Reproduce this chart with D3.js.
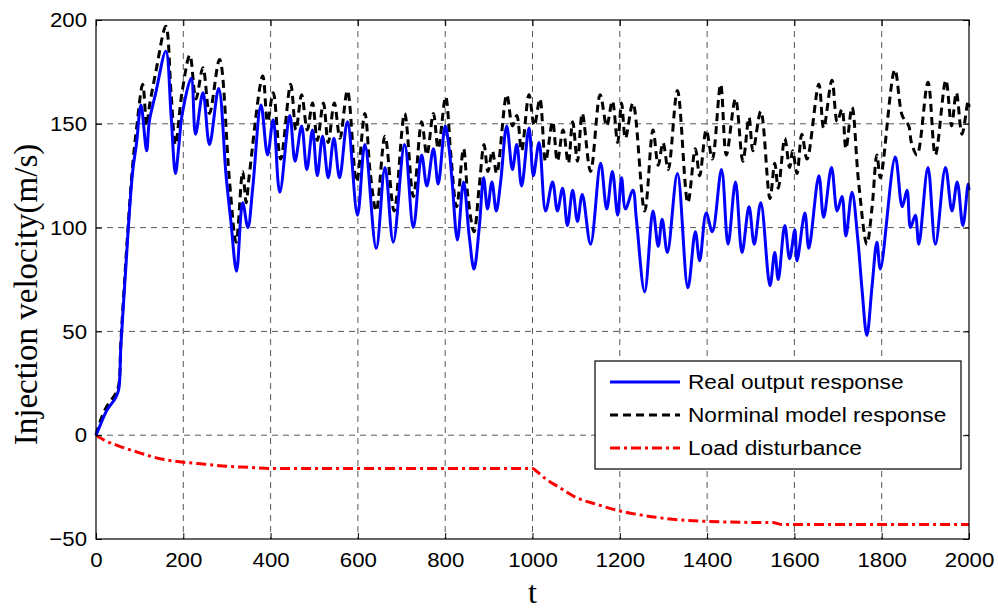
<!DOCTYPE html>
<html>
<head>
<meta charset="utf-8">
<script src="https://cdn.jsdelivr.net/npm/d3@7"></script>
<style>
  body { margin: 0; background: #fff; }
  .tick text { font-family: "Liberation Sans", Arial, sans-serif; font-size: 21px; fill: #000; }
  .axis path, .axis line { stroke: #000; }
  .grid line { stroke: #444; stroke-width: 0.9; stroke-dasharray: 6,5; }
</style>
</head>
<body>
<div id="chart"></div>
<script>
// values, [t, value]
const realOutput = [
  [0,0],[10,5],[25,12],[45,18],[52,22],[57,43],[69,83],[76,106],[84,127],[93,141],[103,159],[116,137],[122,151],
  [137,165],[160,185],[172,154],[182,126],[190,140],[197,154],[218,172],[228,145],[245,165],[260,140],[281,167],
  [298,125],[309,103],[322,79],[336,112],[348,100],[359,119],[378,159],[393,135],[406,152],[421,117],[444,154],
  [456,132],[471,149],[483,128],[496,147],[507,125],[519,144],[532,124],[545,143],[558,124],[576,151],[599,106],
  [616,140],[642,90],[662,129],[681,93],[707,140],[727,100],[746,135],[758,120],[773,138],[784,121],[800,149],
  [809,138],[816,122],[828,94],[842,122],[855,96],[866,80],[878,100],[888,124],[897,109],[907,122],[917,108],
  [927,122],[941,149],[954,128],[964,140],[975,120],[992,148],[1002,125],[1015,141],[1030,108],[1046,122],
  [1057,108],[1069,119],[1080,101],[1092,118],[1103,103],[1114,116],[1133,92],[1156,131],[1170,109],[1183,127],
  [1195,106],[1204,124],[1213,109],[1230,118],[1238,104],[1257,69],[1276,108],[1288,91],[1297,104],[1309,88],
  [1332,126],[1356,71],[1373,98],[1383,84],[1398,107],[1412,98],[1433,128],[1448,92],[1465,122],[1480,88],
  [1496,110],[1508,92],[1523,112],[1544,72],[1555,88],[1563,75],[1578,101],[1589,85],[1601,99],[1606,84],
  [1624,107],[1633,90],[1656,125],[1667,105],[1685,129],[1698,108],[1709,115],[1718,96],[1732,117],[1745,95],
  [1755,70],[1766,48],[1778,72],[1789,93],[1797,80],[1831,134],[1847,110],[1858,118],[1866,100],[1877,106],
  [1885,92],[1906,129],[1923,92],[1946,129],[1961,108],[1973,122],[1986,101],[1998,121],[2000,118]
];

const nominalModel = [
  [0,0],[10,7],[25,14],[45,20],[52,24],[57,45],[69,86],[76,108],[84,130],[93,148],[107,169],[116,149],[122,158],
  [137,175],[160,197],[172,165],[182,140],[197,165],[215,183],[229,162],[245,177],[260,155],[283,181],[306,122],
  [321,93],[336,127],[344,112],[351,125],[382,173],[393,151],[406,165],[423,133],[446,169],[458,147],[471,164],
  [484,147],[496,160],[507,142],[521,160],[532,141],[546,160],[559,143],[576,166],[597,122],[616,155],[628,127],
  [642,108],[662,144],[683,108],[707,155],[727,115],[746,151],[758,135],[773,155],[784,138],[801,163],[813,135],
  [826,110],[842,138],[852,115],[866,98],[878,120],[889,140],[898,127],[908,137],[918,126],[941,164],[954,149],
  [964,154],[975,137],[992,164],[1004,149],[1017,162],[1030,132],[1046,151],[1057,132],[1070,147],[1082,131],
  [1092,151],[1103,132],[1114,155],[1133,127],[1155,164],[1170,149],[1183,161],[1195,141],[1204,160],[1213,143],
  [1230,160],[1257,108],[1276,147],[1288,130],[1299,141],[1311,128],[1332,166],[1356,112],[1373,138],[1383,125],
  [1398,147],[1412,133],[1431,169],[1444,135],[1465,162],[1482,132],[1496,153],[1505,137],[1523,156],[1544,114],
  [1555,131],[1563,119],[1578,143],[1589,129],[1596,137],[1606,126],[1617,145],[1629,133],[1656,169],[1667,148],
  [1686,171],[1698,151],[1709,157],[1718,138],[1732,158],[1747,122],[1766,92],[1778,110],[1789,135],[1797,124],
  [1830,176],[1847,154],[1862,149],[1868,141],[1881,135],[1906,170],[1923,135],[1947,171],[1960,149],[1971,165],
  [1984,145],[1998,161],[2000,158]
];

const loadDisturbance = [
  [0,0],[20,-2.5],[50,-5],[100,-8.5],[150,-11.5],[200,-13],[250,-14],[300,-15],[350,-15.5],[400,-16],
  [600,-16],[800,-16],[1000,-16],[1010,-17.5],[1030,-21],[1060,-25],[1100,-30],[1150,-33.5],[1200,-36.5],
  [1250,-38.5],[1300,-40],[1350,-41],[1400,-41.5],[1500,-42],[1550,-42],[1570,-43],[2000,-43]
];

const xTicks = [0, 200, 400, 600, 800, 1000, 1200, 1400, 1600, 1800, 2000];
const yTicks = [-50, 0, 50, 100, 150, 200];
const legendLabels = ["Real output response", "Norminal model response", "Load disturbance"];

const W = 998, H = 610;
const margin = {top: 20, right: 29, bottom: 71, left: 96};
const width = W - margin.left - margin.right;
const height = H - margin.top - margin.bottom;

const svg = d3.select("#chart").append("svg")
    .attr("width", W)
    .attr("height", H)
    .append("g")
    .attr("transform", "translate(" + margin.left + "," + margin.top + ")");

const x = d3.scaleLinear().domain([0, 2000]).range([0, width]);
const y = d3.scaleLinear().domain([-50, 200]).range([height, 0]);

// grid
svg.append("g").attr("class", "grid")
    .selectAll("line")
    .data(xTicks.slice(1, -1))
    .join("line")
    .attr("x1", d => x(d)).attr("x2", d => x(d))
    .attr("y1", 0).attr("y2", height);

svg.append("g").attr("class", "grid")
    .selectAll("line")
    .data(yTicks.slice(1, -1))
    .join("line")
    .attr("x1", 0).attr("x2", width)
    .attr("y1", d => y(d)).attr("y2", d => y(d));

// series
const wiggly = d3.line()
    .x(d => x(d[0]))
    .y(d => y(d[1]))
    .curve(d3.curveCatmullRom.alpha(0.5));

const smooth = d3.line()
    .x(d => x(d[0]))
    .y(d => y(d[1]))
    .curve(d3.curveMonotoneX);

const series = [
  {data: realOutput, color: "#0000ff", dash: null, gen: wiggly},
  {data: nominalModel, color: "#000000", dash: "8,5", gen: wiggly},
  {data: loadDisturbance, color: "#ff0000", dash: "10,4,3,4", gen: smooth}
];

svg.append("g")
    .selectAll("path")
    .data(series.slice().reverse())
    .join("path")
    .attr("fill", "none")
    .attr("stroke", d => d.color)
    .attr("stroke-width", 3)
    .attr("stroke-linejoin", "round")
    .attr("stroke-dasharray", d => d.dash)
    .attr("d", d => d.gen(d.data));

// axes: inward ticks on all four sides (matlab style)
const xAxis = d3.axisBottom(x).tickValues(xTicks).tickFormat(d3.format("d"))
    .tickSizeInner(-6).tickSizeOuter(0).tickPadding(13);
const yAxis = d3.axisLeft(y).tickValues(yTicks).tickFormat(d3.format("d"))
    .tickSizeInner(-6).tickSizeOuter(0).tickPadding(9);

svg.append("g").attr("class", "axis")
    .attr("transform", "translate(0," + height + ")")
    .call(xAxis)
    .call(g => g.select(".domain").remove());
svg.append("g").attr("class", "axis")
    .call(yAxis)
    .call(g => g.select(".domain").remove());
svg.append("g").attr("class", "axis")
    .call(d3.axisTop(x).tickValues(xTicks).tickSizeInner(-6).tickSizeOuter(0).tickFormat(""))
    .call(g => g.select(".domain").remove());
svg.append("g").attr("class", "axis")
    .attr("transform", "translate(" + width + ",0)")
    .call(d3.axisRight(y).tickValues(yTicks).tickSizeInner(-6).tickSizeOuter(0).tickFormat(""))
    .call(g => g.select(".domain").remove());

// stretch tick labels slightly like the source image
svg.selectAll(".tick text")
    .attr("transform", "scale(1.06,1)")
    .each(function() {
        const t = d3.select(this);
        const a = t.attr("x");
        if (a) t.attr("x", +a / 1.06);
    });

svg.append("rect")
    .attr("width", width).attr("height", height)
    .attr("fill", "none").attr("stroke", "#000").attr("stroke-width", 1.2);

// labels
svg.append("text")
    .attr("x", width / 2)
    .attr("y", height + 64)
    .attr("text-anchor", "middle")
    .style("font-family", "'Liberation Serif', 'Times New Roman', serif")
    .style("font-size", "32px")
    .text("t");

svg.append("text")
    .attr("transform", "translate(" + (37 - margin.left) + "," + (height / 2 + 15) + ") rotate(-90)")
    .attr("text-anchor", "middle")
    .style("font-family", "'Liberation Serif', 'Times New Roman', serif")
    .style("font-size", "33px")
    .text("Injection velocity(m/s)");

// legend
const legend = svg.append("g")
    .attr("transform", "translate(" + (595 - margin.left) + "," + (361 - margin.top) + ")");

legend.append("rect")
    .attr("width", 366).attr("height", 108)
    .attr("fill", "#fff").attr("stroke", "#000").attr("stroke-width", 1.2);

const rows = legend.selectAll(".row")
    .data(series)
    .join("g")
    .attr("class", "row")
    .attr("transform", (d, i) => "translate(0," + (21 + i * 33) + ")");

rows.append("line")
    .attr("x1", 15).attr("x2", 85)
    .attr("stroke", d => d.color)
    .attr("stroke-width", 3)
    .attr("stroke-dasharray", d => d.dash);

rows.append("text")
    .attr("transform", "translate(93,7) scale(1.08,1)")
    .style("font-family", "'Liberation Sans', Arial, sans-serif")
    .style("font-size", "21px")
    .text((d, i) => legendLabels[i]);
</script>
</body>
</html>
